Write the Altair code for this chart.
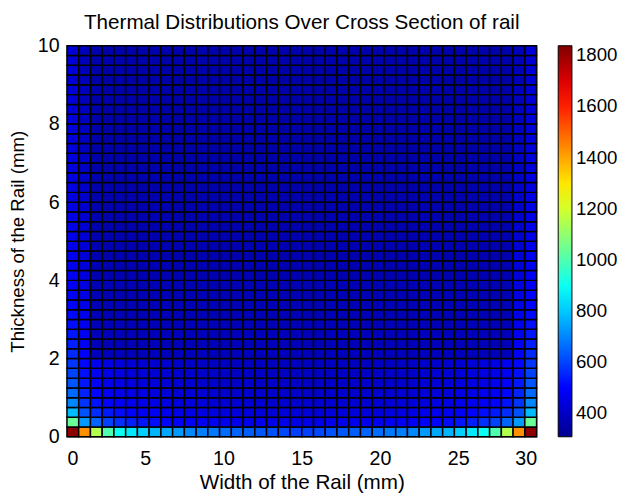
import altair as alt
import pandas as pd

# ---- data (left half of the section; the right half mirrors it) ----
n_cols = 40          # columns across the 30 mm width
n_rows = 40          # rows across the 10 mm thickness
width_mm = 30.0
thick_mm = 10.0

# bottom eight rows, left half (20 columns), bottom row first
row0 = [1820, 1430, 1150, 1000, 900, 850, 810, 770, 750, 730, 705, 690, 680, 665, 650, 640, 630, 620, 605, 595]
row1 = [1040, 730, 650, 600, 570, 545, 530, 515, 505, 497, 490, 485, 480, 476, 472, 469, 466, 464, 462, 460]
row2 = [780, 620, 565, 535, 515, 500, 488, 478, 470, 463, 457, 452, 448, 445, 442, 440, 438, 437, 436, 435]
row3 = [700, 575, 525, 500, 484, 472, 462, 454, 447, 441, 436, 432, 429, 426, 424, 422, 421, 420, 420, 420]
row4 = [655, 550, 505, 483, 469, 458, 449, 442, 436, 431, 427, 423, 420, 417, 415, 413, 412, 411, 410, 410]
row5 = [625, 532, 492, 472, 458, 448, 440, 433, 427, 422, 418, 414, 411, 409, 407, 405, 404, 403, 402, 402]
row6 = [600, 518, 482, 463, 450, 440, 432, 426, 420, 415, 411, 408, 405, 403, 401, 399, 398, 397, 396, 396]
row7 = [580, 507, 474, 456, 444, 434, 427, 421, 415, 410, 406, 403, 400, 398, 396, 394, 393, 392, 392, 392]

# rows 8..39: edge column, second column and interior value of each row
edge_col = [560, 544, 530, 519, 510, 502, 495, 489, 483, 478, 473, 469, 465, 461, 457, 454,
            451, 448, 445, 442, 440, 438, 436, 434, 432, 430, 429, 428, 427, 426, 425, 425]
second_col = [495, 486, 478, 471, 464, 458, 452, 447, 442, 437, 432, 428, 424, 420, 416, 413,
              410, 407, 404, 401, 398, 396, 394, 392, 390, 388, 386, 385, 384, 383, 382, 381]
interior = [385, 383, 381, 379, 377, 375, 373, 371, 369, 367, 366, 365, 364, 363, 362, 361,
            360, 359, 358, 357, 356, 355, 355, 354, 354, 354, 354, 354, 355, 356, 357, 358]

x_ticks = [0, 5, 10, 15, 20, 25, 30]
y_ticks = [0, 2, 4, 6, 8, 10]
cbar_ticks = [400, 600, 800, 1000, 1200, 1400, 1600, 1800]
c_min, c_max = 308, 1838

# ---- assemble the grid ----
half_rows = [row0, row1, row2, row3, row4, row5, row6, row7]
for k in range(len(interior)):
    half_rows.append([edge_col[k], second_col[k]] + [interior[k]] * 18)

dx = width_mm / n_cols
dy = thick_mm / n_rows
records = []
for j, half in enumerate(half_rows):
    full = half + half[::-1]
    for i, v in enumerate(full):
        records.append({"x0": i * dx, "x1": (i + 1) * dx,
                        "y0": j * dy, "y1": (j + 1) * dy, "T": v})
df = pd.DataFrame(records)

# jet colour map
span = c_max - c_min
jet_domain = [c_min, c_min + 0.125 * span, c_min + 0.375 * span,
              c_min + 0.625 * span, c_min + 0.875 * span, c_max]
jet_range = ["#00008f", "#0000ff", "#00ffff", "#ffff00", "#ff0000", "#800000"]

FONT = "Liberation Sans"

chart = alt.Chart(df).mark_rect(stroke="black", strokeWidth=1.5).encode(
    x=alt.X("x0:Q", scale=alt.Scale(domain=[0, 30], nice=False, zero=False),
            axis=alt.Axis(values=x_ticks, title="Width of the Rail (mm)", grid=False,
                          ticks=False, domain=False, labelPadding=12, titlePadding=4,
                          titleFontSize=21)),
    x2="x1:Q",
    y=alt.Y("y0:Q", scale=alt.Scale(domain=[0, 10], nice=False, zero=False),
            axis=alt.Axis(values=y_ticks, title="Thickness of the Rail (mm)", grid=False,
                          ticks=False, domain=False, labelPadding=8, titlePadding=10,
                          titleFontSize=19)),
    y2="y1:Q",
    color=alt.Color("T:Q",
                    scale=alt.Scale(domain=jet_domain, range=jet_range, interpolate="rgb"),
                    legend=alt.Legend(title=None, values=cbar_ticks, format="d",
                                      gradientLength=398, gradientThickness=14, offset=22,
                                      gradientStrokeColor="black", gradientStrokeWidth=1,
                                      labelFontSize=19, labelFont=FONT, labelColor="black",
                                      labelOffset=4, labelOverlap=False)),
).properties(
    width=478,
    height=398,
    autosize=alt.AutoSizeParams(type="none"),
    padding={"left": 60, "top": 34, "right": 90, "bottom": 64},
    title=alt.Title("Thermal Distributions Over Cross Section of rail", fontSize=21,
                    font=FONT, fontWeight="normal", color="black", anchor="middle",
                    frame="group", offset=3),
).configure_axis(
    labelFont=FONT, labelFontSize=20, labelColor="black",
    titleFont=FONT, titleFontWeight="normal", titleColor="black",
).configure_view(stroke="#888888", strokeWidth=1)

chart.save("out.html", embed_options={"renderer": "svg", "actions": False})
